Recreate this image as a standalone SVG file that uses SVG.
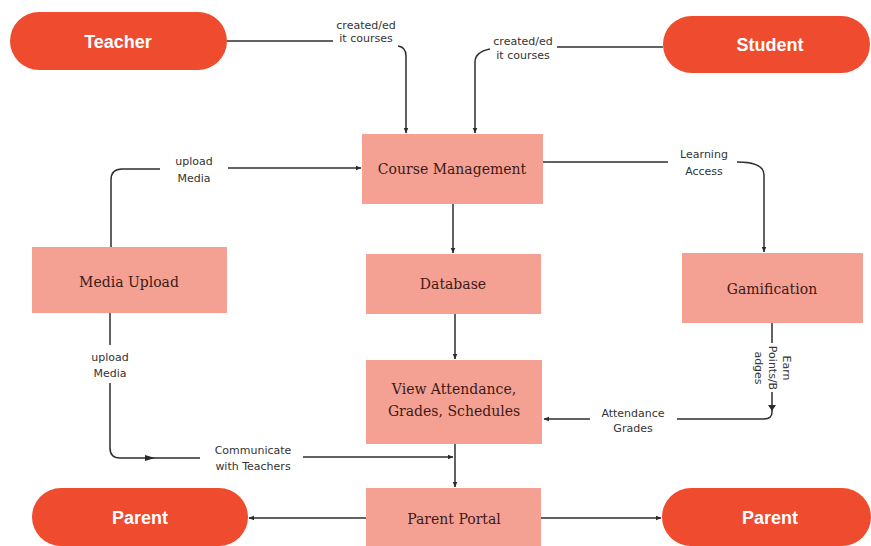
<svg xmlns="http://www.w3.org/2000/svg" width="871" height="546" viewBox="0 0 871 546">
<defs>
<marker id="ah" viewBox="0 0 10 10" refX="9" refY="5" markerWidth="6" markerHeight="6" orient="auto-start-reverse" markerUnits="userSpaceOnUse">
<path d="M0 1 L10 5 L0 9 Z" fill="#2b2b2b"/>
</marker>
<style>
.pill{fill:#EE4B2F}
.pt{font-family:"Liberation Sans",Arial,sans-serif;font-weight:600;font-size:18px;fill:#ffffff;text-anchor:middle;dominant-baseline:central}
.box{fill:#F4A194}
.bt{font-family:"DejaVu Serif","Liberation Serif",serif;font-size:14px;fill:#3d1a16;text-anchor:middle;dominant-baseline:central}
.ln{fill:none;stroke:#2e2e2e;stroke-width:1.5}
.lb{font-family:"DejaVu Sans","Liberation Sans",sans-serif;font-size:11px;fill:#333;text-anchor:middle;dominant-baseline:central}
</style>
</defs>
<rect width="871" height="546" fill="#ffffff"/>

<g id="connectors">
<path class="ln" d="M227 41 H333"/>
<path class="ln" d="M398 46 Q406 47 406 56 V133" marker-end="url(#ah)"/>
<path class="ln" d="M663 47 H557"/>
<path class="ln" d="M490 49 Q475 52 475 62 V133" marker-end="url(#ah)"/>
<path class="ln" d="M111 247 V180 Q111 169 122 169 H160"/>
<path class="ln" d="M228 168 H361" marker-end="url(#ah)"/>
<path class="ln" d="M543 162 H668"/>
<path class="ln" d="M737 162 Q764 162 764 175 V252" marker-end="url(#ah)"/>
<path class="ln" d="M453 204 V253" marker-end="url(#ah)"/>
<path class="ln" d="M455 314 V359" marker-end="url(#ah)"/>
<path class="ln" d="M772 323 V343"/>
<path class="ln" d="M772 392 V412 Q772 419 764 419 H677"/>
<path d="M768 405 L776 405 L772 411 Z" fill="#2b2b2b"/>
<path class="ln" d="M590 419 H544" marker-end="url(#ah)"/>
<path class="ln" d="M455 443 V487" marker-end="url(#ah)"/>
<path class="ln" d="M110 313 V345"/>
<path class="ln" d="M110 383 V448 Q110 458 120 458 H200"/>
<path d="M145 455 L155 458 L145 461 Z" fill="#2b2b2b"/>
<path class="ln" d="M303 457 H453" marker-end="url(#ah)"/>
<path class="ln" d="M366 518 H249" marker-end="url(#ah)"/>
<path class="ln" d="M541 518 H661" marker-end="url(#ah)"/>
<text class="lb" x="366" y="25">created/ed</text>
<text class="lb" x="366" y="38">it courses</text>
<text class="lb" x="523" y="41">created/ed</text>
<text class="lb" x="523" y="55">it courses</text>
<text class="lb" x="194" y="161">upload</text>
<text class="lb" x="194" y="178">Media</text>
<text class="lb" x="704" y="154">Learning</text>
<text class="lb" x="704" y="171">Access</text>
<text class="lb" x="110" y="357">upload</text>
<text class="lb" x="110" y="373">Media</text>
<text class="lb" x="253" y="450">Communicate</text>
<text class="lb" x="253" y="466">with Teachers</text>
<text class="lb" x="633" y="413">Attendance</text>
<text class="lb" x="633" y="428">Grades</text>
<g transform="translate(772 368) rotate(90)">
<text class="lb" x="0" y="-14">Earn</text>
<text class="lb" x="0" y="0">Points/B</text>
<text class="lb" x="0" y="14">adges</text>
</g>
</g>

<g id="teacher"><rect class="pill" x="10" y="12" width="217" height="58" rx="29"/><text class="pt" x="118" y="42">Teacher</text></g>
<g id="student"><rect class="pill" x="663" y="16" width="207" height="57" rx="28.5"/><text class="pt" x="770" y="45">Student</text></g>
<g id="course-management"><rect class="box" x="362" y="134" width="181" height="70"/><text class="bt" x="452" y="169">Course Management</text></g>
<g id="media-upload"><rect class="box" x="32" y="247" width="195" height="66"/><text class="bt" x="129" y="282">Media Upload</text></g>
<g id="database"><rect class="box" x="366" y="254" width="175" height="60"/><text class="bt" x="453" y="284">Database</text></g>
<g id="gamification"><rect class="box" x="682" y="253" width="181" height="70"/><text class="bt" x="772" y="289">Gamification</text></g>
<g id="view-attendance"><rect class="box" x="366" y="360" width="176" height="84"/><text class="bt" x="454" y="389">View Attendance,</text><text class="bt" x="454" y="411">Grades, Schedules</text></g>
<g id="parent-portal"><rect class="box" x="366" y="488" width="175" height="58"/><text class="bt" x="454" y="519">Parent Portal</text></g>
<g id="parent-left"><rect class="pill" x="32" y="488" width="216" height="58" rx="29"/><text class="pt" x="140" y="518">Parent</text></g>
<g id="parent-right"><rect class="pill" x="662" y="488" width="209" height="58" rx="29"/><text class="pt" x="770" y="518">Parent</text></g>
</svg>
